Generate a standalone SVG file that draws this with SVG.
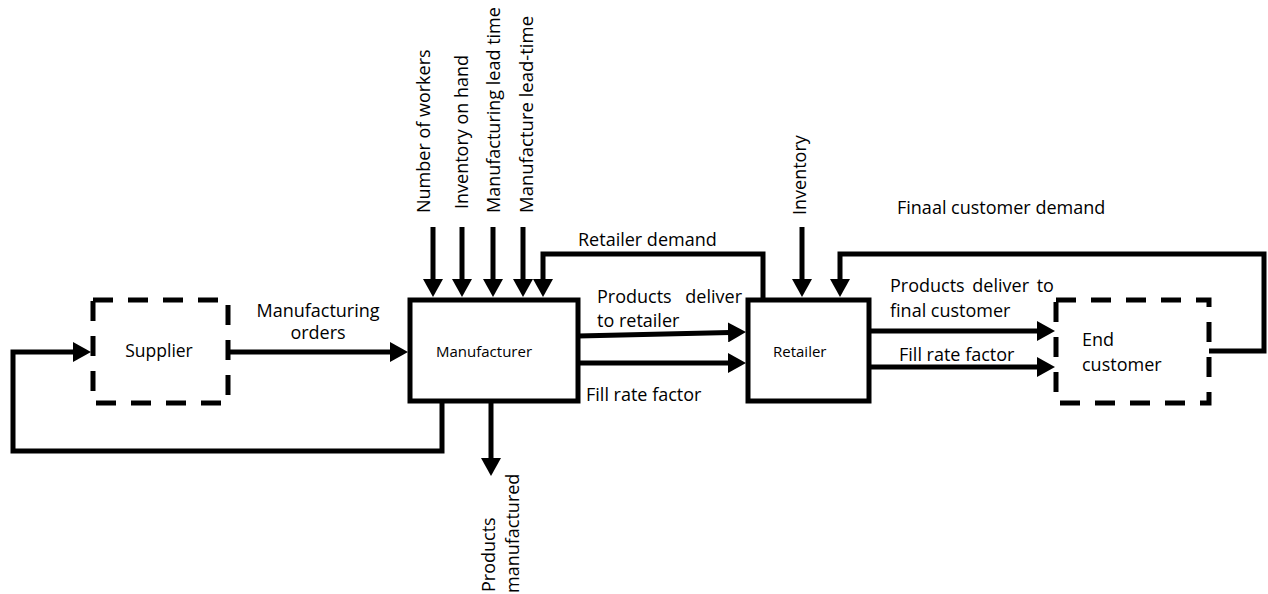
<svg xmlns="http://www.w3.org/2000/svg" width="1268" height="594" viewBox="0 0 1268 594">
<defs>
<marker id="ah" viewBox="0 0 18 20" markerWidth="18" markerHeight="20" refX="2" refY="10" markerUnits="userSpaceOnUse" orient="auto">
<path d="M0,0 L18,10 L0,20 z" fill="#000"/>
</marker>
<style>
text{font-family:"Open Sans","Liberation Sans",sans-serif;fill:#000;font-size:18px}
.box{fill:#fff;stroke:#000;stroke-width:5}
.dash{fill:#fff;stroke:#000;stroke-width:5;stroke-dasharray:20 15}
.c{fill:none;stroke:#000;stroke-width:5;stroke-linejoin:miter}
.a{marker-end:url(#ah)}
.sm{font-size:15px}
</style>
</defs>
<rect width="1268" height="594" fill="#fff"/>

<g id="connectors">
<path class="c a" d="M442,401 V451 H13 V352 H75"/>
<path class="c a" d="M228,352 H392"/>
<path class="c a" d="M433,227 V281"/>
<path class="c a" d="M462,227 V281"/>
<path class="c a" d="M493,227 V281"/>
<path class="c a" d="M523,227 V281"/>
<path class="c a" d="M763,300 V254 H543 V281"/>
<path class="c a" d="M802,227 V281"/>
<path class="c a" d="M1209,351 H1264 V254 H840 V281"/>
<path class="c a" d="M578,336 L730,332.4"/>
<path class="c a" d="M578,363 H730"/>
<path class="c a" d="M869,331 H1039"/>
<path class="c a" d="M869,367 H1039"/>
<path class="c a" d="M491,401 V460"/>
<text x="318" y="317" text-anchor="middle">Manufacturing</text>
<text x="318" y="339" text-anchor="middle">orders</text>
<text transform="translate(430,213) rotate(-90)">Number of workers</text>
<text transform="translate(468,209) rotate(-90)">Inventory on hand</text>
<text transform="translate(500,213) rotate(-90)">Manufacturing lead time</text>
<text transform="translate(533,213) rotate(-90)" style="font-size:18.5px">Manufacture lead-time</text>
<text x="578" y="246">Retailer demand</text>
<text x="597" y="303" word-spacing="9">Products deliver</text>
<text x="597" y="327">to retailer</text>
<text x="586" y="401">Fill rate factor</text>
<text transform="translate(806,215) rotate(-90)">Inventory</text>
<text x="897" y="214">Finaal customer demand</text>
<text x="890" y="292" word-spacing="3">Products deliver to</text>
<text x="890" y="317">final customer</text>
<text x="899" y="361">Fill rate factor</text>
<text transform="translate(495,592) rotate(-90)">Products</text>
<text transform="translate(519,593) rotate(-90)">manufactured</text>
</g>

<g id="supplier">
<rect class="dash" x="93" y="300" width="135" height="103"/>
<text x="159" y="357" text-anchor="middle" style="font-size:17.5px">Supplier</text>
</g>

<g id="manufacturer">
<rect class="box" x="410" y="300" width="168" height="101"/>
<text x="436" y="357" class="sm">Manufacturer</text>
</g>

<g id="retailer">
<rect class="box" x="748" y="300" width="121" height="101"/>
<text x="773" y="357" class="sm">Retailer</text>
</g>

<g id="end-customer">
<rect class="dash" x="1056" y="300" width="153" height="103"/>
<text x="1082" y="346">End</text>
<text x="1082" y="371">customer</text>
</g>
</svg>
